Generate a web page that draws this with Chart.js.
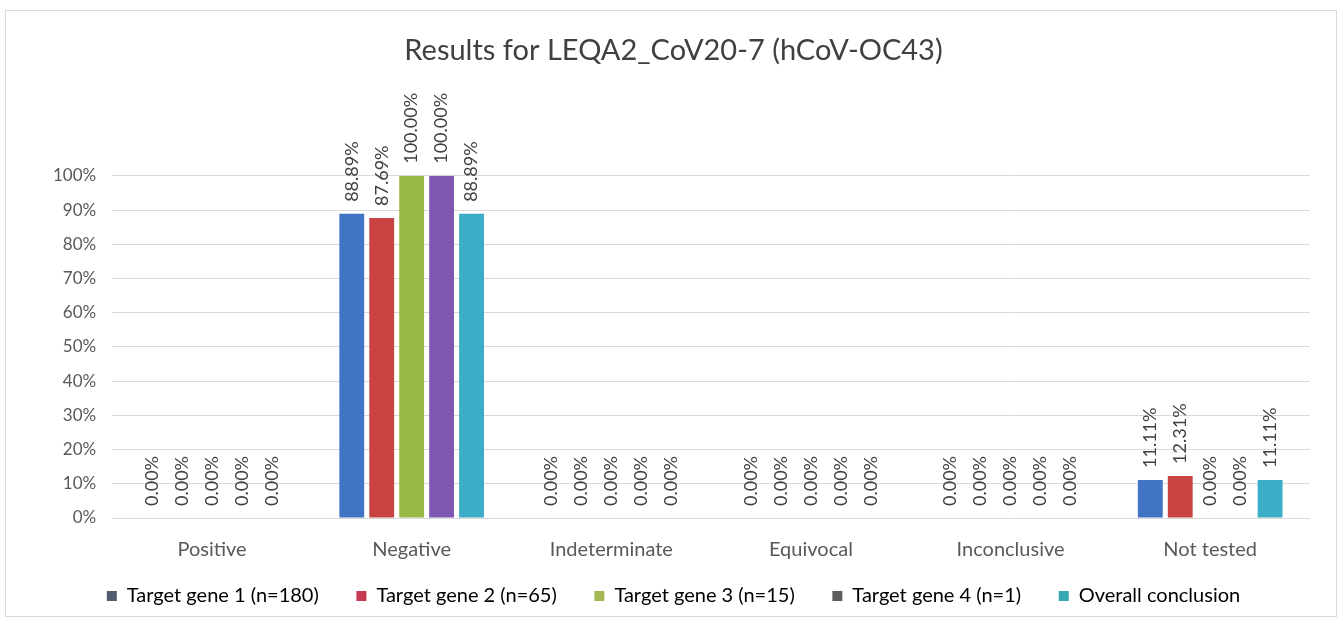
<!DOCTYPE html>
<html>
<head>
<meta charset="utf-8">
<script src="https://cdn.jsdelivr.net/npm/chart.js@4/dist/chart.umd.min.js"></script>
<style>
  html, body { margin:0; padding:0; background:#fff; }
  #wrap { position:absolute; left:5px; top:10px; width:1332px; height:607px; border:1px solid #d9d9d9; box-sizing:border-box; }
</style>
</head>
<body>
<div id="wrap"><canvas id="chart"></canvas></div>
<script>
  // Data
  const categories = ['Positive','Negative','Indeterminate','Equivocal','Inconclusive','Not tested']
  const seriesNames = ['Target gene 1 (n=180)','Target gene 2 (n=65)','Target gene 3 (n=15)','Target gene 4 (n=1)','Overall conclusion']
  const gene1   = [0, 88.89, 0, 0, 0, 11.11]
  const gene2   = [0, 87.69, 0, 0, 0, 12.31]
  const gene3   = [0, 100.00, 0, 0, 0, 0]
  const gene4   = [0, 100.00, 0, 0, 0, 0]
  const overall = [0, 88.89, 0, 0, 0, 11.11]
  const yTicks  = [0,10,20,30,40,50,60,70,80,90,100]

  // colours: bars and (oddly) different legend swatches, as in the source
  const barColors    = ['#4175c4','#c94343','#96b944','#7d57b1','#3cadc6']
  const legendColors = ['#4f5d6c','#c73a52','#a3b855','#5d5d5d','#35a9b3']

  const FONT = 'Lato, "Open Sans", sans-serif'
  const txt = '#595959'

  // data labels, rotated, above each bar
  const valueLabels = {
    id: 'valueLabels',
    afterDatasetsDraw(chart){
      const ctx = chart.ctx
      ctx.save()
      ctx.font = '18px ' + FONT
      ctx.fillStyle = '#404040'
      ctx.textAlign = 'left'
      ctx.textBaseline = 'middle'
      chart.data.datasets.forEach((ds, di) => {
        const meta = chart.getDatasetMeta(di)
        meta.data.forEach((bar, i) => {
          ctx.save()
          ctx.translate(bar.x, bar.y - 12)
          ctx.rotate(-Math.PI/2)
          ctx.fillText(ds.data[i].toFixed(2) + '%', 0, 0)
          ctx.restore()
        })
      })
      ctx.restore()
    }
  }

  const all = [gene1, gene2, gene3, gene4, overall]
  new Chart(document.getElementById('chart'), {
    type: 'bar',
    data: {
      labels: categories,
      datasets: all.map((d, i) => ({
        label: seriesNames[i],
        data: d,
        backgroundColor: barColors[i],
        borderWidth: 0,
        categoryPercentage: 0.75,
        barPercentage: 0.83
      }))
    },
    options: {
      responsive: true,
      maintainAspectRatio: false,
      animation: false,
      layout: { padding: { left: 31, right: 26, top: 0, bottom: 0 } },
      plugins: {
        title: {
          display: true,
          text: 'Results for LEQA2_CoV20-7 (hCoV-OC43)',
          color: '#404040',
          font: { family: FONT, size: 29, weight: 'normal' },
          padding: { top: 22, bottom: 108 }
        },
        legend: {
          position: 'bottom',
          labels: {
            color: txt,
            font: { family: FONT, size: 20 },
            boxWidth: 10, boxHeight: 10,
            padding: 12,
            generateLabels(chart){
              return seriesNames.map((n, i) => ({
                text: i < seriesNames.length - 1 ? n + '     ' : n,
                fillStyle: legendColors[i], strokeStyle: legendColors[i],
                lineWidth: 0, datasetIndex: i, hidden: false
              }))
            }
          }
        },
        tooltip: { enabled: false }
      },
      scales: {
        x: {
          grid: { display: false },
          border: { display: false },
          ticks: { color: txt, font: { family: FONT, size: 20 }, padding: 12 }
        },
        y: {
          min: 0, max: 100,
          afterBuildTicks(axis){ axis.ticks = yTicks.map(v => ({ value: v })) },
          grid: { color: '#d9d9d9', lineWidth: 1, drawTicks: false },
          border: { display: false },
          ticks: { color: txt, font: { family: FONT, size: 17 }, padding: 16, callback: v => v + '%' }
        }
      }
    },
    plugins: [valueLabels]
  })
</script>
</body>
</html>
